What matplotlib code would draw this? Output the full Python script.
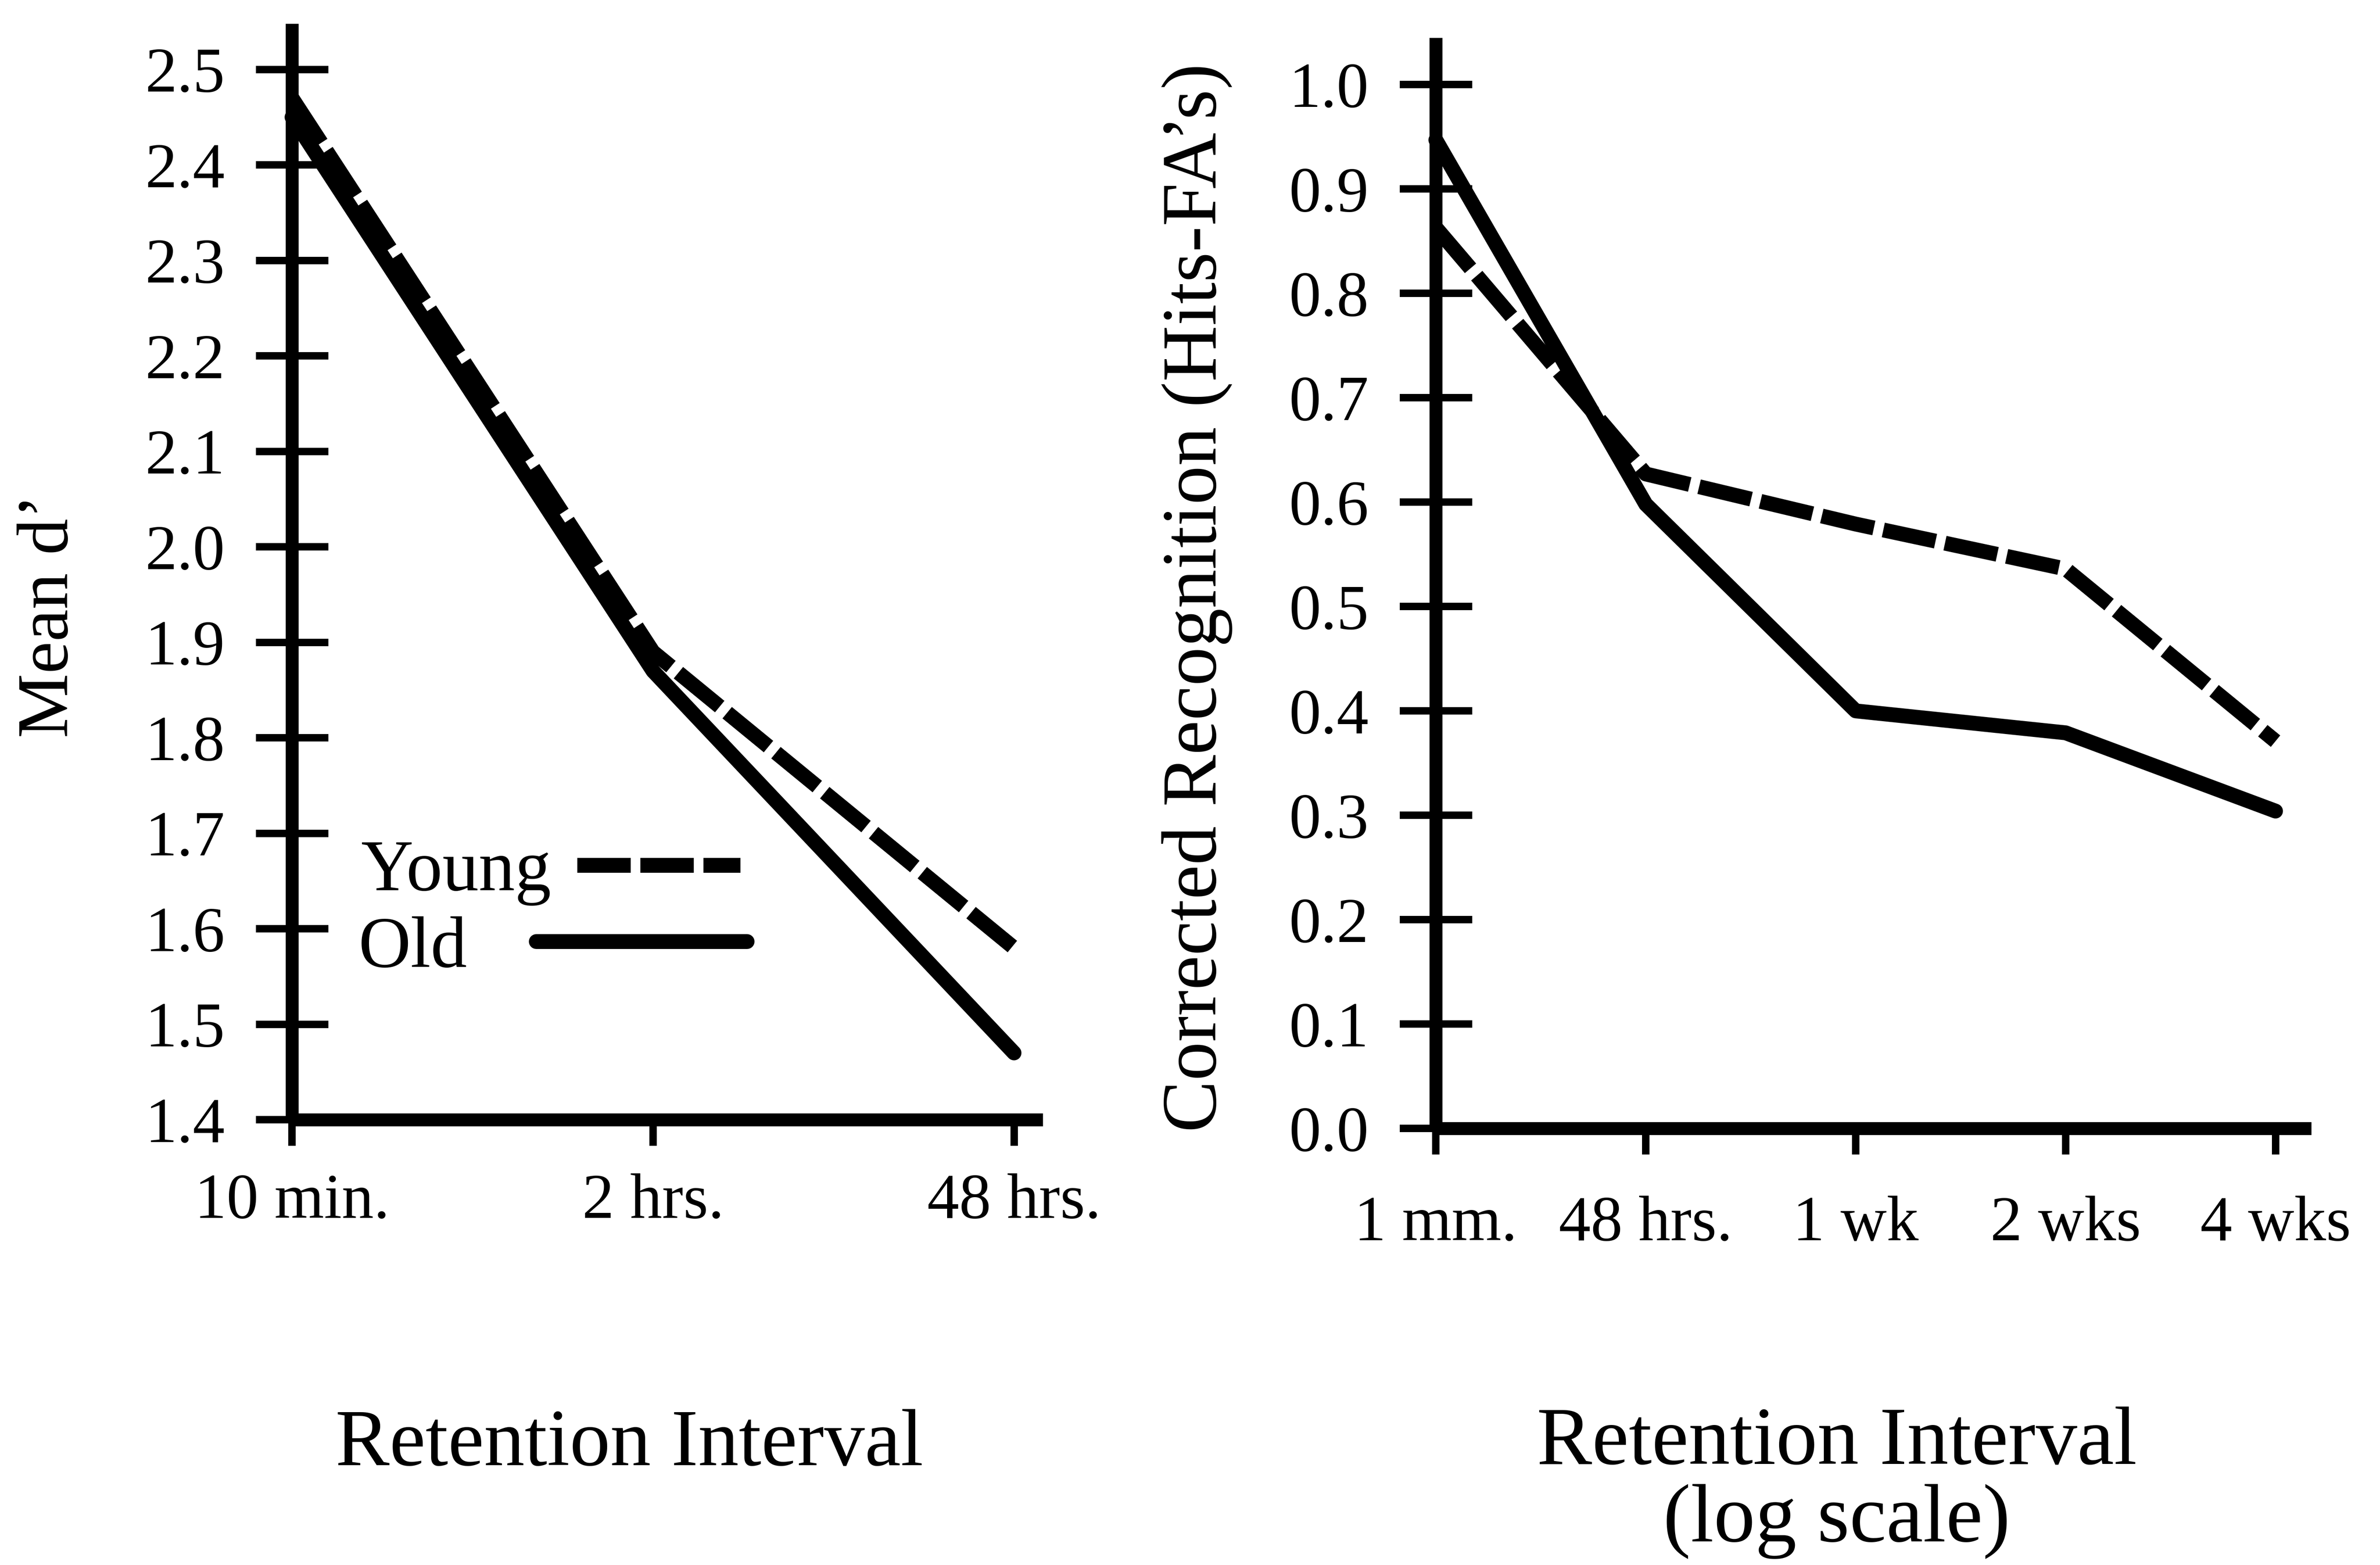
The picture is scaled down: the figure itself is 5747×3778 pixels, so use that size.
import numpy as np
import matplotlib
matplotlib.use("Agg")
import matplotlib.pyplot as plt

plt.rcParams['font.family'] = ['Liberation Serif', 'DejaVu Serif']

# left panel: mean d' at three retention intervals
left_labels = ['10 min.', '2 hrs.', '48 hrs.']
left_young = [2.47, 1.89, 1.58]
left_old = [2.45, 1.87, 1.47]
left_yticks = [1.4, 1.5, 1.6, 1.7, 1.8, 1.9, 2.0, 2.1, 2.2, 2.3, 2.4, 2.5]

# right panel: corrected recognition over five intervals (log spaced)
right_labels = ['1 mm.', '48 hrs.', '1 wk', '2 wks', '4 wks']
right_young = [0.863, 0.627, 0.579, 0.536, 0.371]
right_old = [0.947, 0.598, 0.400, 0.379, 0.304]
right_yticks = [0.0, 0.1, 0.2, 0.3, 0.4, 0.5, 0.6, 0.7, 0.8, 0.9, 1.0]

LW = 8.6
DASH = (3.6, 0.65)

fig = plt.figure(figsize=(5747/300, 3778/300), dpi=300)
fig.patch.set_facecolor('white')

ax1 = fig.add_axes([0.1227, 0.2845, 0.3155, 0.7004])
ax2 = fig.add_axes([0.6033, 0.2790, 0.3678, 0.6969])

def style_axes(ax, xlabpad):
    for s in ['top', 'right']:
        ax.spines[s].set_visible(False)
    for s in ['left', 'bottom']:
        ax.spines[s].set_linewidth(7.5)
        ax.spines[s].set_capstyle('butt')
    ax.tick_params(axis='y', direction='inout', length=42, width=4.3,
                   pad=18, labelsize=37)
    ax.tick_params(axis='x', direction='out', length=15, width=4.3,
                   pad=xlabpad, labelsize=37)

# left
x1 = np.arange(len(left_labels))
young_line, = ax1.plot(x1, left_young, color='k', lw=LW, dashes=DASH,
                       dash_capstyle='butt', clip_on=False, label='Young')
old_line, = ax1.plot(x1, left_old, color='k', lw=LW, solid_capstyle='round',
                     clip_on=False, label='Old')
ax1.set_xlim(0, 2.08)
ax1.set_ylim(1.4, 2.548)
ax1.set_xticks(x1)
ax1.set_xticklabels(left_labels)
ax1.set_yticks(left_yticks)
ax1.set_yticklabels(['%.1f' % v for v in left_yticks])
style_axes(ax1, 16)
ax1.set_ylabel('Mean d\u2019', fontsize=42, va='center')
ax1.yaxis.set_label_coords(-0.3227, 0.4596)
ax1.set_xlabel('Retention Interval', fontsize=47)
ax1.xaxis.set_label_coords(0.449, -0.2638)

# key: label text first, sample line after it, lines ending flush
leg_kw = dict(loc='center left', frameon=False, markerfirst=False,
              fontsize=42, borderpad=0, borderaxespad=0)
leg_young = ax1.legend(handles=[young_line], bbox_to_anchor=(0.0921, 0.2252),
                       handlelength=2.25, handletextpad=0.36, **leg_kw)
ax1.add_artist(leg_young)
ax1.legend(handles=[old_line], bbox_to_anchor=(0.0888, 0.1557),
           handlelength=2.91, handletextpad=0.95, **leg_kw)

# right
x2 = np.arange(len(right_labels))
ax2.plot(x2, right_young, color='k', lw=LW, dashes=DASH,
         dash_capstyle='butt', clip_on=False)
ax2.plot(x2, right_old, color='k', lw=LW, solid_capstyle='round',
         clip_on=False)
ax2.set_xlim(0, 4.17)
ax2.set_ylim(0.0, 1.045)
ax2.set_xticks(x2)
ax2.set_xticklabels(right_labels)
ax2.set_yticks(right_yticks)
ax2.set_yticklabels(['%.1f' % v for v in right_yticks])
style_axes(ax2, 24)
ax2.set_ylabel('Corrected Recognition (Hits-FA\u2019s)', fontsize=45, va='center')
ax2.yaxis.set_label_coords(-0.2729, 0.4865)
ax2.set_xlabel('Retention Interval\n(log scale)', fontsize=48, linespacing=1.05)
ax2.xaxis.set_label_coords(0.458, -0.255)

fig.savefig('out.png', dpi=300, facecolor='white')
